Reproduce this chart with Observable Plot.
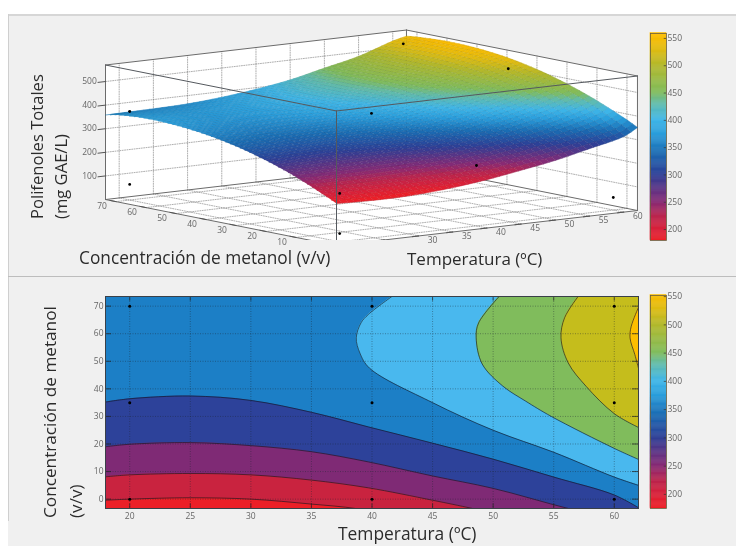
<!DOCTYPE html>
<html><head><meta charset="utf-8">
<script src="https://cdn.jsdelivr.net/npm/d3@7"></script>
<script src="https://cdn.jsdelivr.net/npm/@observablehq/plot@0.6"></script>
<style>
html,body{margin:0;padding:0;background:#fff;width:736px;height:546px;overflow:hidden}
#page{position:relative;width:736px;height:546px;font-family:"Open Sans",sans-serif;color:#2b2b2b;filter:blur(0.35px)}
#panel{position:absolute;left:8px;top:14px;right:0;bottom:0;background:#f0f0f0;border-top:2px solid #d6d6d6}
#edge{position:absolute;left:8px;top:14px;width:1px;height:507px;background:#cfcfcf}
#mid{position:absolute;left:8px;right:0;top:276px;height:1px;background:#bdbdbd}
.p{position:absolute;left:0;top:0}
.lab{position:absolute;white-space:nowrap;line-height:1}
.rot{transform-origin:0 0;transform:rotate(-90deg)}
svg{display:block;overflow:hidden}
</style></head><body>
<div id="page"><div id="panel"></div><div id="edge"></div><div id="mid"></div></div>
<script>
// ---------- Data ----------
const tempTicks = [20, 25, 30, 35, 40, 45, 50, 55, 60];
const concTicks = [0, 10, 20, 30, 40, 50, 60, 70];
const polyTicks = [100, 200, 300, 400, 500];
const barTicks  = [200, 250, 300, 350, 400, 450, 500, 550];
const tempDomain = [18, 62];
const concDomain = [-3.4, 73.5];
const polyDomain = [0, 570];
// tick labels the picture shows along the floor edges
const tempTickLabels = [30, 35, 40, 45, 50, 55, 60];
const concTickLabels = [10, 20, 30, 40, 50, 60, 70];

// Surface heights (mg GAE/L) read at each temperature along concNodes
const concNodes = [-3.5, 0, 10, 20, 30, 40, 50, 60, 70, 73.5];
const tempNodes = [18, 20, 25, 30, 35, 40, 45, 50, 55, 60, 62];
const zT18 = [178, 200, 256, 301, 336, 360, 374, 378, 368, 358];
const zT20 = [176, 198, 254, 299, 334, 358, 372, 376, 367, 359];
const zT25 = [173, 195, 251, 296, 331, 355, 369, 373, 366, 361];
const zT30 = [177, 199, 255, 300, 335, 359, 373, 377, 370, 365];
const zT35 = [188, 210, 266, 311, 346, 370, 384, 388, 381, 376];
const zT40 = [205, 227, 283, 328, 363, 387, 401, 405, 398, 393];
const zT45 = [228, 250, 306, 351, 386, 410, 424, 428, 421, 416];
const zT50 = [253, 276, 334, 381, 417, 443, 457, 461, 454, 449];
const zT55 = [286, 309, 367, 414, 450, 476, 490, 494, 487, 482];
const zT60 = [320, 345, 407, 457, 496, 523, 539, 543, 535, 530];
const zT62 = [352, 375, 431, 477, 513, 538, 552, 556, 549, 544];
const surfaceRows = [zT18, zT20, zT25, zT30, zT35, zT40, zT45, zT50, zT55, zT60, zT62];

// Measured points in the 3-D view
const ptTemp = [20, 20, 20, 20, 40, 40, 60, 60, 60];
const ptConc = [70, 70, 0, 0, 35, 0, 70, 35, 0];
const ptPoly = [375, 66, 205, 35, 388, 256, 527, 510, 53];
// Design points in the contour view
const designTemp = [20, 20, 20, 40, 40, 40, 60, 60, 60];
const designConc = [70, 35, 0, 70, 35, 0, 70, 35, 0];

// Contour levels and lines
const levels = [200, 250, 300, 350, 400, 450, 500, 550];
const bandColors = ["#ec1f27", "#c9233f", "#7f2a75", "#2d429a", "#1c7fc6", "#49b8ee", "#80bc5c", "#c5bd1c", "#fdbe00"];
const iso200T = [18, 20, 25, 30, 35, 38.8, 45, 62];
const iso200C = [-0.4, 0, 0.5, 0, -1.8, -3.5, -9, -30];
const iso250T = [18, 20, 25, 30, 35, 39.7, 45, 48.4, 55, 62];
const iso250C = [8.1, 8.8, 9.3, 8.8, 6.9, 4.1, -0.4, -3.5, -10, -18];
const iso300T = [18, 20, 25, 30, 35, 39.7, 45, 50, 56.3, 62];
const iso300C = [19, 19.9, 20.5, 19.4, 17.2, 13.5, 8.4, 3.9, -3.5, -9];
const iso350T = [18, 20, 25, 30, 35, 39.7, 45, 50, 55, 60, 62];
const iso350C = [35.2, 36.4, 37.4, 35.8, 31.5, 26.2, 20.3, 14.5, 8, 1.5, -3.1];
const iso400C = [5, 8, 17, 25, 35, 47.5, 53, 58.5, 64, 67, 74];
const iso400T = [62, 60, 55, 50, 45, 39.8, 39, 38.7, 39.1, 39.7, 41.8];
const iso450C = [14.4, 18.4, 30, 35.5, 41, 49, 58.5, 63.9, 74];
const iso450T = [62, 60, 54.8, 52.7, 50.8, 49.1, 48.6, 48.8, 50.6];
const iso500C = [26, 31, 40.8, 49.4, 58.5, 65.8, 74];
const iso500T = [62, 60, 57.7, 56.2, 55.6, 55.9, 57.1];
const iso550C = [47.5, 52.4, 58.5, 62.7, 69.6];
const iso550T = [62, 61.7, 61.3, 61.4, 62];

// Colour bar ramp
const rampStops = [175, 200, 225, 250, 300, 340, 375, 400, 430, 450, 500, 530, 555];
const rampColors = ["#ee1f25", "#d8213a", "#b8254f", "#862a75", "#2d3f96", "#1a6cb3", "#2a9edc", "#3fb6e8", "#62bcaa", "#80bc5c", "#b3b82a", "#e2bc10", "#fdbd00"];

const labelFont = "Open Sans, sans-serif";
const page = document.getElementById("page");
function place(el, left, top) {
  el.classList.add("p");
  el.style.left = left + "px"; el.style.top = top + "px";
  page.appendChild(el);
}
function text(str, left, top, size, rotate) {
  const d = document.createElement("div");
  d.className = "lab" + (rotate ? " rot" : "");
  d.textContent = str;
  d.style.left = left + "px"; d.style.top = top + "px"; d.style.fontSize = size + "px";
  page.appendChild(d);
}

// ---------- Oblique view of the box ----------
const view = {x0: 336, y0: 245, tx: 6.84, ty: -0.795, cx: -3.0, cy: -0.597, zy: -0.236};
const T0 = tempDomain[0], T1 = tempDomain[1], C0 = -3.5, C1 = 73.5, Z0 = polyDomain[0], Z1 = polyDomain[1];
const px = (t, c) => view.x0 + (t - T0) * view.tx + (c - C0) * view.cx;
const py = (t, c, z) => view.y0 + (t - T0) * view.ty + (c - C0) * view.cy + z * view.zy;
const P = (t, c, z, extra) => ({px: px(t, c), py: py(t, c, z), ...extra});
const seg = (a, b, id) => [P(...a, {id}), P(...b, {id})];

// Smooth rendering of the read surface table
function hermite(xs, ys, x) {
  let i = Math.min(d3.bisectRight(xs, x) - 1, xs.length - 2); i = Math.max(i, 0);
  const h = xs[i + 1] - xs[i], s = (x - xs[i]) / h;
  const slope = j => j <= 0 ? (ys[1] - ys[0]) / (xs[1] - xs[0]) : j >= xs.length - 1 ? (ys[j] - ys[j - 1]) / (xs[j] - xs[j - 1]) : (ys[j + 1] - ys[j - 1]) / (xs[j + 1] - xs[j - 1]);
  const m0 = slope(i) * h, m1 = slope(i + 1) * h, s2 = s * s, s3 = s2 * s;
  return (2 * s3 - 3 * s2 + 1) * ys[i] + (s3 - 2 * s2 + s) * m0 + (-2 * s3 + 3 * s2) * ys[i + 1] + (s3 - s2) * m1;
}
const surfaceAt = (t, c) => hermite(tempNodes, surfaceRows.map(r => hermite(concNodes, r, c)), t);
const N = 48;
const meshT = d3.range(N + 1).map(i => T0 + (T1 - T0) * i / N);
const meshC = d3.range(N + 1).map(i => C0 + (C1 - C0) * i / N);
const zGrid = meshT.map(t => meshC.map(c => surfaceAt(t, c)));
const quads = [], meshLines = [];
for (let i = N - 1; i >= 0; i--) for (let j = N - 1; j >= 0; j--) {
  const id = i * (N + 1) + j;
  const v = (zGrid[i][j] + zGrid[i + 1][j] + zGrid[i][j + 1] + zGrid[i + 1][j + 1]) / 4;
  quads.push(P(meshT[i], meshC[j], zGrid[i][j], {id, v}), P(meshT[i + 1], meshC[j], zGrid[i + 1][j], {id, v}),
             P(meshT[i + 1], meshC[j + 1], zGrid[i + 1][j + 1], {id, v}), P(meshT[i], meshC[j + 1], zGrid[i][j + 1], {id, v}));
}
for (let i = 0; i <= N; i++) meshC.forEach((c, j) => meshLines.push(P(meshT[i], c, zGrid[i][j], {id: "t" + i})));
for (let j = 0; j <= N; j++) meshT.forEach((t, i) => meshLines.push(P(t, meshC[j], zGrid[i][j], {id: "c" + j})));

// Walls and floor
const walls = [
  [[T0, C0, Z0], [T1, C0, Z0], [T1, C1, Z0], [T0, C1, Z0]],
  [[T1, C0, Z0], [T1, C1, Z0], [T1, C1, Z1], [T1, C0, Z1]],
  [[T0, C1, Z0], [T1, C1, Z0], [T1, C1, Z1], [T0, C1, Z1]]
].flatMap((w, id) => w.map(v => P(...v, {id})));
const grid = [];
tempTicks.forEach(t => { grid.push(...seg([t, C0, Z0], [t, C1, Z0], "f" + t), ...seg([t, C1, Z0], [t, C1, Z1], "w" + t)); });
concTicks.forEach(c => { grid.push(...seg([T0, c, Z0], [T1, c, Z0], "g" + c), ...seg([T1, c, Z0], [T1, c, Z1], "u" + c)); });
polyTicks.forEach(z => { grid.push(...seg([T0, C1, z], [T1, C1, z], "a" + z), ...seg([T1, C1, z], [T1, C0, z], "b" + z)); });
const backEdges = [
  ...seg([T0, C1, Z0], [T1, C1, Z0], 1), ...seg([T1, C1, Z0], [T1, C0, Z0], 2), ...seg([T0, C1, Z1], [T1, C1, Z1], 3),
  ...seg([T1, C1, Z1], [T1, C0, Z1], 4), ...seg([T1, C1, Z0], [T1, C1, Z1], 5),
  ...seg([T0, C1, Z0], [T0, C0, Z0], 6), ...seg([T0, C0, Z0], [T1, C0, Z0], 7),
  ...seg([T0, C1, Z0], [T0, C1, Z1], 8), ...seg([T1, C0, Z0], [T1, C0, Z1], 9)
];
const frontEdges = [...seg([T0, C1, Z1], [T0, C0, Z1], 1), ...seg([T0, C0, Z1], [T1, C0, Z1], 2), ...seg([T0, C0, Z0], [T0, C0, Z1], 3)];
const tickMarks = [
  ...tempTicks.flatMap(t => seg([t, C0, Z0], [t - 0.9, C0, Z0], "t" + t)),
  ...concTicks.flatMap(c => seg([T0, c, Z0], [T0, c + 2, Z0], "c" + c)),
  ...polyTicks.flatMap(z => seg([T0, C1, z], [T0 - 1.1, C1, z], "z" + z))
];
const off = (a, dx, dy) => ({...a, px: a.px + dx, py: a.py + dy});
const tempLabels = tempTickLabels.map(t => off(P(t, C0, Z0, {s: String(t)}), 14, 4.5));
const concLabels = concTickLabels.map(c => off(P(T0, c, Z0, {s: String(c)}), -14, 4.5));
const polyLabels = polyTicks.map(z => off(P(T0, C1, z, {s: String(z)}), -16, 0));
const measured = ptTemp.map((t, i) => P(t, ptConc[i], ptPoly[i]));

const scaleColor = {type: "linear", domain: rampStops, range: rampColors, clamp: true};
const xy = {x: "px", y: "py"};
const tickStyle = {fontSize: 8.5, fill: "#666", fontFamily: labelFont};
const panelBg = "#f0f0f0", floorCut = 240, surfaceHeight = 248;

const surfacePlot = Plot.plot({
  width: 736, height: surfaceHeight, margin: 0,
  style: {background: "transparent"},
  x: {domain: [0, 736], range: [0, 736], axis: null},
  y: {domain: [0, surfaceHeight], range: [0, surfaceHeight], axis: null},
  color: scaleColor,
  marks: [
    Plot.line(walls, {...xy, z: "id", fill: "#fff", stroke: "none"}),
    Plot.line(grid, {...xy, z: "id", stroke: "#6f6f6f", strokeWidth: 0.7, strokeDasharray: "1 1.4", strokeOpacity: 0.8}),
    Plot.line(backEdges, {...xy, z: "id", stroke: "#6b6b6b", strokeWidth: 1}),
    Plot.dot(measured, {...xy, r: 1.4, fill: "#000"}),
    Plot.line(quads, {...xy, z: "id", fill: "v", stroke: "v", strokeWidth: 0.5}),
    Plot.line(meshLines, {...xy, z: "id", stroke: "#000", strokeWidth: 0.4, strokeOpacity: 0.13}),
    Plot.dot(measured.filter((d, i) => ptPoly[i] >= 200), {...xy, r: 1.4, fill: "#000"}),
    Plot.line(frontEdges, {...xy, z: "id", stroke: "#55595e", strokeWidth: 1}),
    Plot.line(tickMarks, {...xy, z: "id", stroke: "#555", strokeWidth: 1}),
    // the label strip hides the front of the floor, as in the reference
    Plot.rect([0], {x1: 60, x2: 736, y1: floorCut, y2: surfaceHeight, fill: panelBg}),
    Plot.text(tempLabels, {...xy, text: "s", ...tickStyle}),
    Plot.text(concLabels, {...xy, text: "s", ...tickStyle}),
    Plot.text(polyLabels, {...xy, text: "s", ...tickStyle})
  ]
});
place(surfacePlot, 0, 0);

// ---------- Contour panel ----------
const T = tempDomain, Cd = concDomain;
const fillLine = {curve: "catmull-rom", clip: true};
const rowsAbove = [[iso200T, iso200C, 200], [iso250T, iso250C, 250], [iso300T, iso300C, 300], [iso350T, iso350C, 350]];
const rowsRight = [[iso400T, iso400C, 400], [iso450T, iso450C, 450], [iso500T, iso500C, 500], [iso550T, iso550C, 550]];
const isoStroke = {stroke: "#101828", strokeOpacity: 0.72, strokeWidth: 0.9};
const gridStyle = {stroke: "#1b2530", strokeOpacity: 0.5, strokeWidth: 0.8, strokeDasharray: "1 1.5"};
const tickMark = {stroke: "#222", strokeOpacity: 0.7};
const contourPlot = Plot.plot({
  width: 640, height: 250,
  marginLeft: 105, marginRight: 2, marginTop: 23, marginBottom: 15,
  style: {background: "transparent"},
  x: {domain: T, label: null},
  y: {domain: Cd, label: null},
  color: {type: "threshold", domain: levels, range: bandColors},
  marks: [
    Plot.frame({fill: bandColors[0], stroke: "none"}),
    ...rowsAbove.map(([t, c, l]) => Plot.areaY(t, {x: t, y1: c, y2: 75, fill: () => l, ...fillLine})),
    ...rowsRight.map(([t, c, l]) => Plot.areaX(c, {y: c, x1: t, x2: 64, fill: () => l, ...fillLine})),
    ...rowsAbove.map(([t, c]) => Plot.line(t, {x: t, y: c, ...isoStroke, ...fillLine})),
    ...rowsRight.map(([t, c]) => Plot.line(c, {x: t, y: c, ...isoStroke, ...fillLine})),
    Plot.ruleX(tempTicks, gridStyle),
    Plot.ruleY(concTicks, gridStyle),
    Plot.ruleX(tempTicks, {y1: 71.8, y2: 73.5, ...tickMark}),
    Plot.ruleX(tempTicks, {y1: -3.4, y2: -1.7, ...tickMark}),
    Plot.ruleY(concTicks, {x1: 18, x2: 18.5, ...tickMark}),
    Plot.ruleY(concTicks, {x1: 61.5, x2: 62, ...tickMark}),
    Plot.dot(designTemp, {x: designTemp, y: designConc, r: 1.5, fill: "#000"}),
    Plot.frame({stroke: "#3a4048", strokeWidth: 1}),
    Plot.axisX({ticks: tempTicks, tickSize: 0, tickPadding: 4, label: null, ...tickStyle}),
    Plot.axisY({ticks: concTicks, tickSize: 0, tickPadding: 2, label: null, ...tickStyle})
  ]
});
place(contourPlot, 0, 273);

// ---------- Colour bars ----------
function colorBar(domain, left, top, h) {
  const values = d3.range(domain[0], domain[1], 2);
  return place(Plot.plot({
    width: 45, height: h,
    marginLeft: 1, marginRight: 28, marginTop: 0, marginBottom: 0,
    style: {background: "transparent", overflow: "visible"},
    x: {domain: [0, 1], axis: null},
    y: {domain, label: null},
    color: scaleColor,
    marks: [
      Plot.rect(values, {x1: 0, x2: 1, y1: d => d, y2: d => d + 2, fill: d => d, stroke: d => d, strokeWidth: 0.5}),
      Plot.ruleY(barTicks.filter(d => d > domain[0] && d < domain[1]), {x1: 0.86, x2: 1, stroke: "#333", strokeOpacity: 0.7}),
      Plot.frame({stroke: "#6a6040", strokeWidth: 0.8}),
      Plot.axisY({anchor: "right", ticks: barTicks, tickSize: 0, tickPadding: 1, label: null, ...tickStyle})
    ]
  }), left, top);
}
colorBar([180, 559], 649, 33, 207);
colorBar([175, 552], 649, 295, 213);

// ---------- Labels ----------
text("Concentración de metanol (v/v)", 79, 249, 17.3);
text("Temperatura (ºC)", 407, 250, 17);
text("Temperatura (ºC)", 338, 525, 17.4);
text("Polifenoles Totales", 29, 219, 16.6, true);
text("(mg GAE/L)", 53, 219, 16.6, true);
text("Concentración de metanol", 41, 518, 17.2, true);
text("(v/v)", 67, 518, 17.2, true);
</script>
</body></html>
